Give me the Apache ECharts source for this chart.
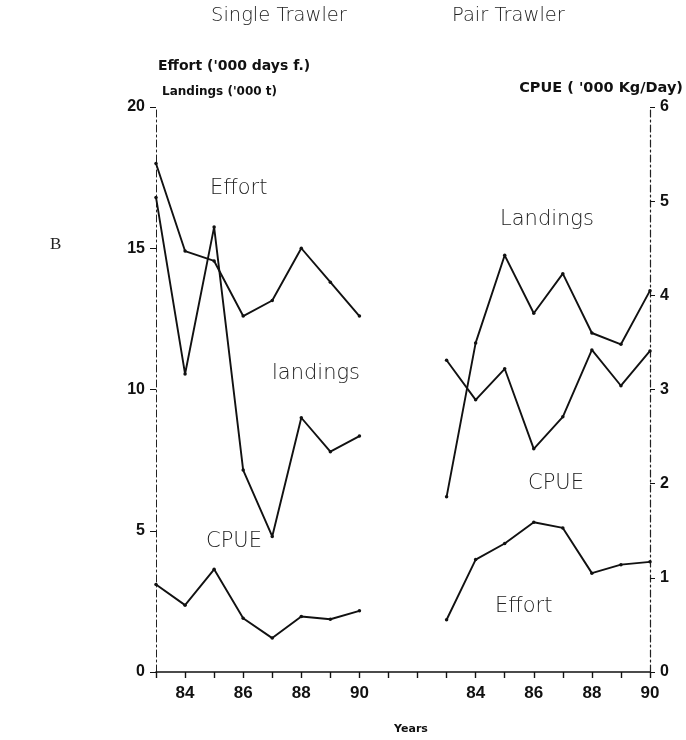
<!DOCTYPE html>
<html><head><meta charset="utf-8">
<script src="https://cdn.jsdelivr.net/npm/echarts@6/dist/echarts.min.js"></script>
<style>html,body{margin:0;padding:0;background:#fff}#c{width:686px;height:740px}</style>
</head><body><div id="c"></div>
<script>
// Years (two panels sharing one x axis, with a gap of two empty years)
const yearsSingle = [83, 84, 85, 86, 87, 88, 89, 90];
const yearsPair   = [83, 84, 85, 86, 87, 88, 89, 90];
const pairOffset = 10; // axis slot of the first pair-trawler year
const xTickLabels = ['', '84', '', '86', '', '88', '', '90', '', '', '', '84', '', '86', '', '88', '', '90'];

// Single trawler
const singleEffort   = [18.0, 14.9, 14.55, 12.6, 13.15, 15.0, 13.8, 12.6];   // '000 days f.
const singleLandings = [16.8, 10.55, 15.75, 7.15, 4.8, 9.0, 7.8, 8.35];      // '000 t
const singleCPUE     = [0.93, 0.71, 1.09, 0.57, 0.36, 0.59, 0.56, 0.65];     // '000 Kg/Day

// Pair trawler
const pairEffort   = [1.85, 3.98, 4.55, 5.3, 5.1, 3.5, 3.8, 3.9];
const pairLandings = [6.2, 11.65, 14.75, 12.7, 14.1, 12.0, 11.6, 13.5];
const pairCPUE     = [3.31, 2.89, 3.22, 2.37, 2.71, 3.42, 3.04, 3.41];

const leftTicks = [0, 5, 10, 15, 20];
const rightTicks = [0, 1, 2, 3, 4, 5, 6];

const pts = (years, vals, off) => years.map((y, i) => [y - years[0] + off, vals[i]]);

const FONT = '"Liberation Sans", Arial, sans-serif';
const WIDE = '"DejaVu Sans", sans-serif';
const LIGHT = '200 21px "DejaVu Sans", sans-serif';
const TITLE = '200 19.5px "DejaVu Sans", sans-serif';
const lineStyle = { color: '#111', width: 1.9 };
const mk = (name, data, yi) => ({
  name, type: 'line', yAxisIndex: yi, data,
  symbol: 'circle', symbolSize: 3.5,
  itemStyle: { color: '#111' }, lineStyle, animation: false, z: 3
});

const chart = echarts.init(document.getElementById('c'), null, { renderer: 'canvas' });
chart.setOption({
  backgroundColor: '#fff',
  animation: false,
  grid: { left: 156, right: 36, top: 107, bottom: 65 },
  xAxis: {
    type: 'value', min: 0, max: 17, interval: 1,
    axisLine: { lineStyle: { color: '#111', width: 1.6 } },
    axisTick: { length: 6, lineStyle: { color: '#111', width: 1.4 } },
    splitLine: { show: false },
    axisLabel: {
      formatter: v => xTickLabels[v] || '',
      color: '#111', fontFamily: FONT, fontWeight: 'bold', fontSize: 17, margin: 13
    },
    name: 'Years', nameLocation: 'middle', nameGap: 52,
    nameTextStyle: { color: '#111', fontFamily: WIDE, fontWeight: 'bold', fontSize: 11, padding: [0, 0, 0, 16] }
  },
  yAxis: [
    {
      type: 'value', min: 0, max: 20, interval: 5, position: 'left',
      axisLine: { show: true, lineStyle: { color: '#222', width: 1, type: [7, 3, 2, 3] } },
      axisTick: { show: true, length: 6, lineStyle: { color: '#111' } },
      splitLine: { show: false },
      axisLabel: { color: '#111', fontFamily: FONT, fontWeight: 'bold', fontSize: 16, margin: 11,
        formatter: v => leftTicks.includes(v) ? String(v) : '' }
    },
    {
      type: 'value', min: 0, max: 6, interval: 1, position: 'right',
      axisLine: { show: true, lineStyle: { color: '#222', width: 1.2, type: [7, 3, 2, 3] } },
      axisTick: { show: true, length: 5, lineStyle: { color: '#111' } },
      splitLine: { show: false },
      axisLabel: { color: '#111', fontFamily: FONT, fontWeight: 'bold', fontSize: 16, margin: 10,
        formatter: v => rightTicks.includes(v) ? String(v) : '' }
    }
  ],
  series: [
    mk('Single Effort', pts(yearsSingle, singleEffort, 0), 0),
    mk('Single Landings', pts(yearsSingle, singleLandings, 0), 0),
    mk('Single CPUE', pts(yearsSingle, singleCPUE, 0), 1),
    mk('Pair Effort', pts(yearsPair, pairEffort, pairOffset), 0),
    mk('Pair Landings', pts(yearsPair, pairLandings, pairOffset), 0),
    mk('Pair CPUE', pts(yearsPair, pairCPUE, pairOffset), 1)
  ],
  graphic: [
    { type: 'text', left: 211, top: 6, style: { text: 'Single Trawler', font: TITLE, fill: '#222' } },
    { type: 'text', left: 452, top: 6, style: { text: 'Pair Trawler', font: TITLE, fill: '#222' } },
    { type: 'text', left: 158, top: 59, style: { text: "Effort ('000 days f.)", font: 'bold 14px ' + WIDE, fill: '#111' } },
    { type: 'text', left: 162, top: 86, style: { text: "Landings ('000 t)", font: 'bold 12px ' + WIDE, fill: '#111' } },
    { type: 'text', right: 3, top: 81, style: { text: "CPUE ( '000 Kg/Day)", font: 'bold 14.5px ' + WIDE, fill: '#111' } },
    { type: 'text', left: 50, top: 236, style: { text: 'B', font: '17px "Liberation Serif", serif', fill: '#222' } },
    { type: 'text', left: 210, top: 178, style: { text: 'Effort', font: LIGHT, fill: '#222' } },
    { type: 'text', left: 272, top: 363, style: { text: 'landings', font: LIGHT, fill: '#222' } },
    { type: 'text', left: 206, top: 531, style: { text: 'CPUE', font: LIGHT, fill: '#222' } },
    { type: 'text', left: 500, top: 209, style: { text: 'Landings', font: LIGHT, fill: '#222' } },
    { type: 'text', left: 528, top: 473, style: { text: 'CPUE', font: LIGHT, fill: '#222' } },
    { type: 'text', left: 495, top: 596, style: { text: 'Effort', font: LIGHT, fill: '#222' } }
  ]
});
</script>
</body></html>
